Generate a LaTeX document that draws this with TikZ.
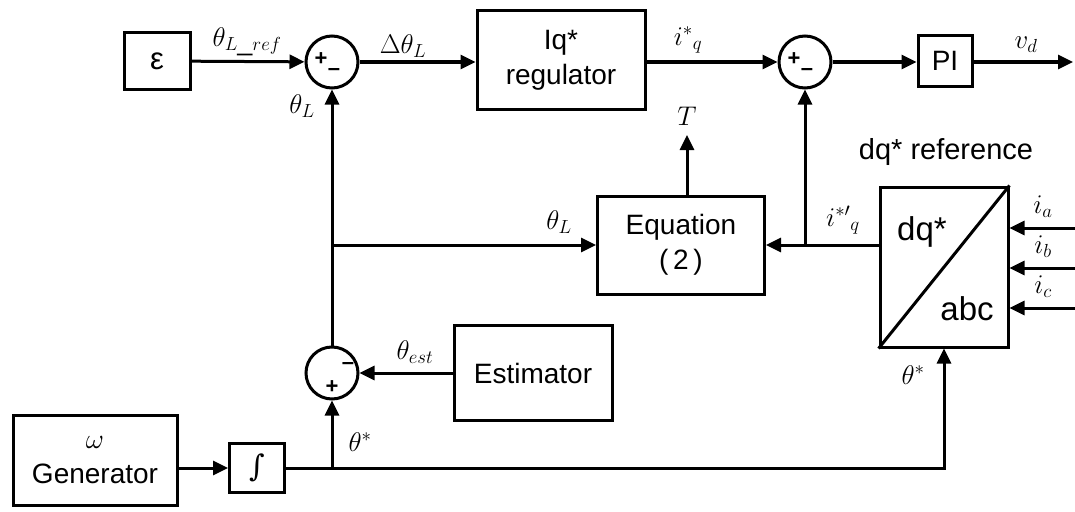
\RequirePackage{fix-cm}
\documentclass[tikz,border=0pt]{standalone}
\usepackage{fontspec}
\setmainfont{Liberation Sans}
\newfontfamily\intfont{DejaVu Serif}
\usetikzlibrary{arrows.meta,positioning,calc}
\tikzset{
  blk/.style={draw, line width=3pt, inner sep=0pt, align=center, font=\fontsize{28}{35}\selectfont},
  sumc/.style={circle, draw, line width=3pt, minimum size=52pt, inner sep=0pt},
  sgn/.style={inner sep=0pt, font=\fontsize{22}{22}\selectfont\bfseries},
  lbl/.style={inner sep=0pt, font=\fontsize{27}{29}\selectfont},
  wire/.style={line width=3pt},
  sig/.style={wire, -{Triangle[length=15pt,width=14pt]}},
}

\begin{document}
\begin{tikzpicture}[x=1pt, y=-1pt]
  \useasboundingbox (0,0) rectangle (1075,511);
  % blocks
  \node[blk, minimum width=66pt, minimum height=57pt, font=\fontsize{31}{35}\selectfont] (eps) at (157,61) {ε};
  \node[blk, minimum width=168pt, minimum height=98pt] (iq) at (561,60) {Iq*\\regulator};
  \node[blk, minimum width=54pt, minimum height=50pt] (pi) at (945,61) {PI};
  \node[blk, minimum width=167pt, minimum height=98pt] (eqn) at (681,245) {Equation\\(\,2\,)};
  \node[blk, minimum width=128pt, minimum height=160pt] (dq) at (944,267) {};
  \node[blk, minimum width=158pt, minimum height=95pt] (est) at (533,373) {Estimator};
  \node[blk, minimum width=164pt, minimum height=90pt] (gen) at (95,460) {$\omega$\\Generator};
  \node[blk, minimum width=55pt, minimum height=49pt] (intg) at (257,468) {\intfont\fontsize{30}{30}\selectfont ∫};
  % summing junctions
  \node[sumc] (s1) at (332,62) {};
  \node[sumc] (s2) at (805,62) {};
  \node[sumc] (s3) at (332,373) {};
  \node[sgn] at (321,59) {+};
  \node[sgn] at (334,72) {--};
  \node[sgn] at (794,59) {+};
  \node[sgn] at (807,72) {--};
  \node[sgn] at (348,366) {--};
  \node[sgn] at (332,387) {+};
  % dq* / abc converter
  \draw[wire] (dq.south west) -- (dq.north east);
  \node[font=\fontsize{33}{35}\selectfont] at (922,232) {dq*};
  \node[font=\fontsize{33}{35}\selectfont] at (967,309) {abc};
  \node[font=\fontsize{29}{31}\selectfont] at (946,152) {dq* reference};
  % forward path
  \coordinate (vd) at (1073,62);
  \draw[sig] (eps) -- (s1);
  \draw[sig] (s1) -- (iq.west |- s1);
  \draw[sig] (iq.east |- s2) -- (s2);
  \draw[sig] (s2) -- (pi.west |- s2);
  \draw[sig] (pi.east |- vd) -- (vd);
  % feedback and equation inputs
  \coordinate (jq) at (805,245);
  \coordinate (jt) at (332,245);
  \coordinate (tq) at (687,135);
  \draw[sig] (dq.west |- jq) -- (eqn.east);
  \draw[sig] (jq) -- (s2);
  \draw[sig] (jt) -- (eqn.west);
  \draw[sig] (eqn.north -| tq) -- (tq);
  \draw[sig] (s3) -- (s1);
  \draw[sig] (est) -- (s3);
  % angle generation
  \coordinate (jth) at (332,468);
  \draw[sig] (gen.east |- intg) -- (intg);
  \draw[sig] (intg.east) -| (dq.south);
  \draw[sig] (jth) -- (s3);
  % phase currents
  \foreach \k/\yy in {a/228, b/268, c/308}{
    \coordinate (i\k) at (1075,\yy);
    \draw[sig] (i\k) -- (dq.east |- i\k);
    \node[lbl] at (1043,\yy-21) {$i_\k$};
  }
  % labels
  \node[lbl] at (247,42) {$\theta_{L\_ref}$};
  \node[lbl] at (403,46) {$\Delta\theta_L$};
  \node[lbl] at (302,106) {$\theta_L$};
  \node[lbl] at (688,40) {$i^{*}{}_{q}$};
  \node[lbl] at (1026,45) {$v_d$};
  \node[lbl] at (687,116) {$T$};
  \node[lbl] at (559,222) {$\theta_L$};
  \node[lbl] at (843,220) {$i^{*\prime}{}_{q}$};
  \node[lbl] at (415,352) {$\theta_{est}$};
  \node[lbl] at (360,442) {$\theta^{*}$};
  \node[lbl] at (913,375) {$\theta^{*}$};
\end{tikzpicture}
\end{document}
